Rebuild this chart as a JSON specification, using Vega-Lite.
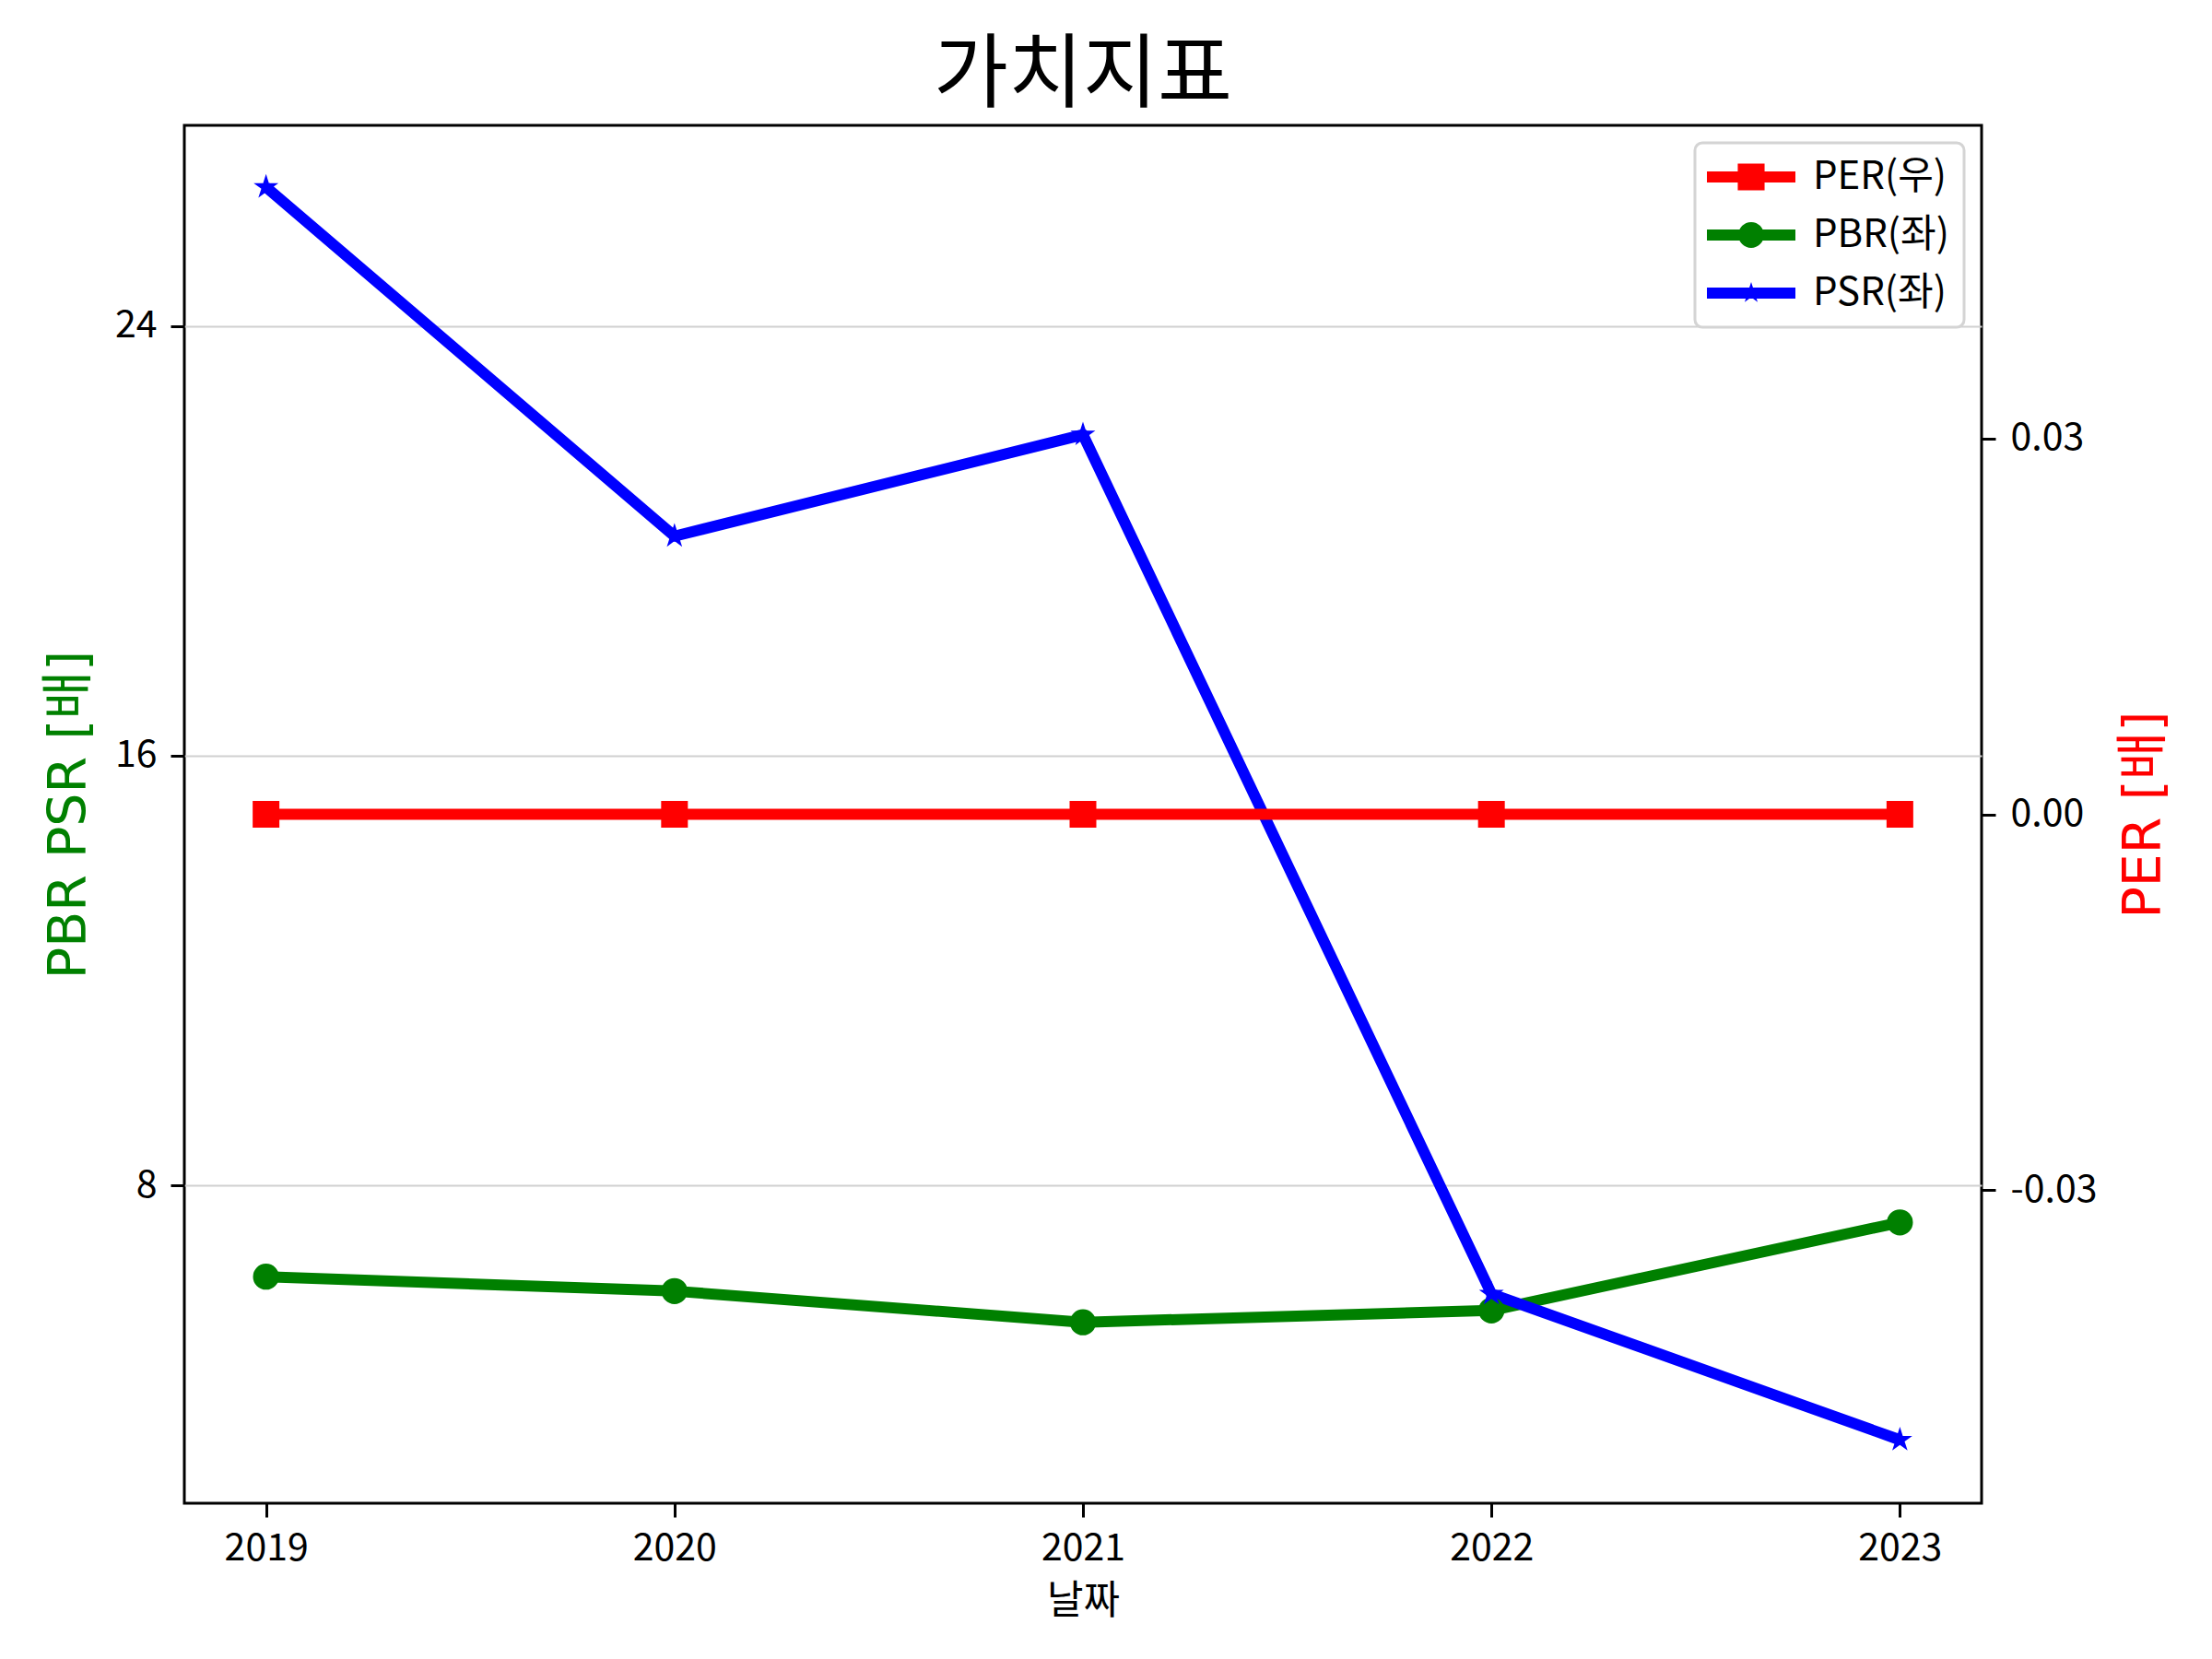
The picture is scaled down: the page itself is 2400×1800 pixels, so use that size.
{
  "$schema": "https://vega.github.io/schema/vega-lite/v6.json",
  "width": 1950,
  "height": 1495,
  "autosize": {"type": "none"},
  "padding": {"left": 200, "top": 136, "right": 250, "bottom": 169},
  "background": "white",
  "title": {
    "text": "가치지표",
    "font": "Noto Sans CJK KR",
    "fontSize": 88,
    "fontWeight": "normal",
    "color": "black",
    "anchor": "middle",
    "frame": "group",
    "baseline": "alphabetic",
    "offset": 25,
    "dy": 86
  },
  "config": {
    "view": {"stroke": "black", "strokeWidth": 3},
    "axis": {
      "labelFont": "Noto Sans CJK KR",
      "labelFontSize": 41,
      "labelColor": "black",
      "tickColor": "black",
      "tickWidth": 3,
      "tickSize": 15,
      "domain": false,
      "titleFontWeight": "normal",
      "titleColor": "black"
    },
    "legend": {
      "orient": "top-right",
      "offset": 19,
      "padding": 16,
      "fillColor": "white",
      "strokeColor": "#d4d4d4",
      "cornerRadius": 8,
      "labelFont": "Noto Sans CJK KR",
      "labelFontSize": 42,
      "labelColor": "black",
      "symbolOffset": 24,
      "labelOffset": 46,
      "rowPadding": 21,
      "symbolSize": 900
    }
  },
  "datasets": {
    "ratios": [
      {"year": 2019, "metric": "PER(우)", "value": 0},
      {"year": 2020, "metric": "PER(우)", "value": 0},
      {"year": 2021, "metric": "PER(우)", "value": 0},
      {"year": 2022, "metric": "PER(우)", "value": 0},
      {"year": 2023, "metric": "PER(우)", "value": 0},
      {"year": 2019, "metric": "PBR(좌)", "value": 6.30},
      {"year": 2020, "metric": "PBR(좌)", "value": 6.03},
      {"year": 2021, "metric": "PBR(좌)", "value": 5.45},
      {"year": 2022, "metric": "PBR(좌)", "value": 5.67},
      {"year": 2023, "metric": "PBR(좌)", "value": 7.31},
      {"year": 2019, "metric": "PSR(좌)", "value": 26.59},
      {"year": 2020, "metric": "PSR(좌)", "value": 20.09},
      {"year": 2021, "metric": "PSR(좌)", "value": 21.98},
      {"year": 2022, "metric": "PSR(좌)", "value": 5.98},
      {"year": 2023, "metric": "PSR(좌)", "value": 3.26}
    ]
  },
  "data": {"name": "ratios"},
  "encoding": {
    "x": {
      "field": "year",
      "type": "quantitative",
      "scale": {"domain": [2018.8, 2023.2], "nice": false, "zero": false},
      "axis": {
        "values": [2019, 2020, 2021, 2022, 2023],
        "format": "d",
        "grid": false,
        "labelPadding": 14,
        "title": "날짜",
        "titleFont": "Noto Sans CJK KR",
        "titleFontSize": 43,
        "titlePadding": 16
      }
    }
  },
  "layer": [
    {
      "transform": [{"filter": "datum.metric !== 'PER(우)'"}],
      "encoding": {
        "y": {
          "field": "value",
          "type": "quantitative",
          "scale": {"domain": [2.08, 27.74], "nice": false, "zero": false},
          "axis": {
            "orient": "left",
            "values": [8, 16, 24],
            "grid": true,
            "gridColor": "#d0d0d0",
            "gridWidth": 2,
            "labelPadding": 15,
            "title": "PBR PSR [배]",
            "titleColor": "green",
            "titleFont": "DejaVu Sans, Noto Sans CJK KR",
            "titleFontSize": 57,
            "titlePadding": 20
          }
        }
      },
      "layer": [
        {
          "mark": {"type": "line", "strokeWidth": 12, "strokeJoin": "round"},
          "encoding": {
            "color": {
              "field": "metric",
              "type": "nominal",
              "scale": {"domain": ["PER(우)", "PBR(좌)", "PSR(좌)"], "range": ["#ff0000", "#008000", "#0000ff"]},
              "legend": {
                "title": null,
                "encode": {
                  "legend": {"update": {"strokeWidth": {"value": 3}}},
                  "symbols": {
                    "update": {
                      "shape": {"signal": "datum.value === 'PER(우)' ? 'M-3.2,-0.4H3.2V0.4H-3.2Z M-0.97,-0.97H0.97V0.97H-0.97Z' : datum.value === 'PBR(좌)' ? 'M-3.2,-0.4H3.2V0.4H-3.2Z M-0.93,0A0.93,0.93 0 1,1 0.93,0A0.93,0.93 0 1,1 -0.93,0Z' : 'M-3.2,-0.4H3.2V0.4H-3.2Z M0,-0.8L0.18,-0.247L0.761,-0.247L0.291,0.094L0.47,0.647L0,0.306L-0.47,0.647L-0.291,0.094L-0.761,-0.247L-0.18,-0.247Z'"},
                      "fill": {"signal": "scale('color', datum.value)"},
                      "stroke": {"value": "transparent"},
                      "strokeWidth": {"value": 0},
                      "opacity": {"value": 1},
                      "size": {"value": 900}
                    }
                  }
                }
              }
            }
          }
        },
        {
          "transform": [{"filter": "datum.metric === 'PBR(좌)'"}],
          "mark": {"type": "point", "filled": true, "size": 800, "opacity": 1, "shape": "circle", "color": "#008000"}
        },
        {
          "transform": [{"filter": "datum.metric === 'PSR(좌)'"}],
          "mark": {"type": "point", "filled": true, "size": 800, "opacity": 1, "color": "#0000ff", "shape": "M0,-1L0.2245,-0.309L0.951,-0.309L0.3633,0.118L0.5878,0.809L0,0.382L-0.5878,0.809L-0.3633,0.118L-0.951,-0.309L-0.2245,-0.309Z"}
        }
      ]
    },
    {
      "transform": [{"filter": "datum.metric === 'PER(우)'"}],
      "encoding": {
        "y": {
          "field": "value",
          "type": "quantitative",
          "scale": {"domain": [-0.055, 0.055], "nice": false, "zero": false},
          "axis": {
            "orient": "right",
            "values": [-0.03, 0, 0.03],
            "labelExpr": "datum.value < 0 ? '-' + format(-datum.value, '.2f') : format(datum.value, '.2f')",
            "grid": false,
            "labelPadding": 16,
            "title": "PER [배]",
            "titleColor": "red",
            "titleFont": "DejaVu Sans, Noto Sans CJK KR",
            "titleFontSize": 57,
            "titleAngle": 270,
            "titleBaseline": "top",
            "titlePadding": 24
          }
        }
      },
      "layer": [
        {
          "mark": {"type": "line", "strokeWidth": 12, "strokeJoin": "round"},
          "encoding": {
            "color": {
              "field": "metric",
              "type": "nominal",
              "legend": {
                "title": null,
                "encode": {
                  "legend": {"update": {"strokeWidth": {"value": 3}}},
                  "symbols": {
                    "update": {
                      "shape": {"signal": "datum.value === 'PER(우)' ? 'M-3.2,-0.4H3.2V0.4H-3.2Z M-0.97,-0.97H0.97V0.97H-0.97Z' : datum.value === 'PBR(좌)' ? 'M-3.2,-0.4H3.2V0.4H-3.2Z M-0.93,0A0.93,0.93 0 1,1 0.93,0A0.93,0.93 0 1,1 -0.93,0Z' : 'M-3.2,-0.4H3.2V0.4H-3.2Z M0,-0.8L0.18,-0.247L0.761,-0.247L0.291,0.094L0.47,0.647L0,0.306L-0.47,0.647L-0.291,0.094L-0.761,-0.247L-0.18,-0.247Z'"},
                      "fill": {"signal": "scale('color', datum.value)"},
                      "stroke": {"value": "transparent"},
                      "strokeWidth": {"value": 0},
                      "opacity": {"value": 1},
                      "size": {"value": 900}
                    }
                  }
                }
              }
            }
          }
        },
        {
          "mark": {"type": "point", "filled": true, "size": 841, "opacity": 1, "shape": "square", "color": "#ff0000"}
        }
      ]
    }
  ],
  "resolve": {"scale": {"y": "independent"}}
}
